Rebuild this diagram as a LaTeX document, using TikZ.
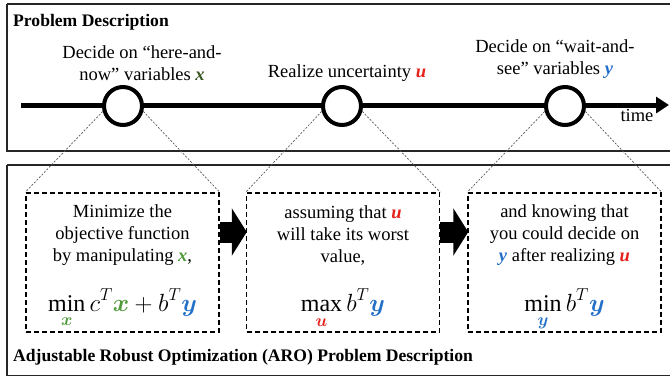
\documentclass[tikz,border=0pt]{standalone}
\usepackage{fontspec}
\setmainfont{Liberation Serif}
\usepackage{amsmath,bm}
\usetikzlibrary{arrows.meta}
\definecolor{gtop}{HTML}{385723}
\definecolor{gbox}{HTML}{4F9A3A}
\definecolor{ured}{HTML}{E4211B}
\definecolor{yblue}{HTML}{2370C8}
\newcommand{\vx}{{\color{gtop}\textbf{\textit{x}}}}
\newcommand{\vu}{{\color{ured}\textbf{\textit{u}}}}
\newcommand{\vy}{{\color{yblue}\textbf{\textit{y}}}}
\newcommand{\vxb}{{\color{gbox}\textbf{\textit{x}}}}
\newcommand{\mathvx}{{\color{gbox}\bm{x}}}
\newcommand{\mathvu}{{\color{ured}\bm{u}}}
\newcommand{\mathvy}{{\color{yblue}\bm{y}}}
\tikzset{
  panel/.style={draw=black!85, line width=1.6pt},
  header/.style={font=\fontsize{17.6}{20}\selectfont\bfseries, anchor=west, inner sep=0pt},
  lbl/.style={font=\fontsize{18.5}{22}\selectfont, align=center, inner sep=0pt},
  event/.style={circle, draw=black, line width=4pt, fill=white, minimum size=38pt, inner sep=0pt},
  stagebox/.style={draw=black, line width=1.5pt, dash pattern=on 5pt off 3pt, minimum width=193pt, minimum height=139pt, inner sep=0pt},
  zoomline/.style={draw=black!65, line width=0.7pt, dash pattern=on 2pt off 1.6pt},
  formula/.style={font=\fontsize{24}{28}\selectfont, anchor=base, inner sep=0pt},
  blockarrow/.style={line width=21pt, -{Triangle[length=15pt,width=47pt]}, shorten >=-1pt}
}
\begin{document}
\begin{tikzpicture}[x=1pt,y=-1pt]
\useasboundingbox (0,0) rectangle (670,376);
% panels
\draw[panel] (7,4) -- (690,4) (7,4) -- (7,151) -- (690,151);
\draw[panel] (7,165) -- (690,165) (7,165) -- (7,375.5) -- (690,375.5);
\node[header] (h1) at (13,22) {Problem Description};
\node[header] (h2) at (13,357) {Adjustable Robust Optimization (ARO) Problem Description};
% timeline
\coordinate (t0) at (21,105);
\coordinate (t1) at (669,105);
\draw[line width=5pt, -{Triangle[length=13pt,width=16pt]}] (t0) -- (t1);
\node[event] (c1) at (123,106) {};
\node[event] (c2) at (342,106) {};
\node[event] (c3) at (565,106) {};
\node[lbl] (l1) at (142,63) {Decide on “here-and-\\now” variables \vx};
\node[lbl] (l2) at (347,73) {Realize uncertainty \vu};
\node[lbl] (l3) at (555,59) {Decide on “wait-and-\\see” variables \vy};
\node[lbl] (tm) at (637,115) {time};
% stage boxes
\node[stagebox] (b1) at (122.5,262.5) {};
\node[stagebox] (b2) at (343,262.5) {};
\node[stagebox] (b3) at (564.5,262.5) {};
\foreach \c/\b in {c1/b1,c2/b2,c3/b3}{
  \draw[zoomline] (\c.195) -- (\b.north west);
  \draw[zoomline] (\c.-15) -- (\b.north east);
}
\node[lbl] (s1) at (122.5,235) {Minimize the\\objective function\\by manipulating \vxb,};
\node[lbl] (s2) at (343,235) {assuming that \vu\\will take its worst\\value,};
\node[lbl] (s3) at (564.5,235) {and knowing that\\you could decide on\\\vy{} after realizing \vu};
\node[formula] (f1) at (122.5,311) {$\displaystyle\min_{\mathvx} c^T\mathvx + b^T\mathvy$};
\node[formula] (f2) at (343,311) {$\displaystyle\max_{\mathvu} b^T\mathvy$};
\node[formula] (f3) at (564.5,311) {$\displaystyle\min_{\mathvy} b^T\mathvy$};
% block arrows
\draw[blockarrow] ([yshift=30.5pt]b1.east) -- ([yshift=30.5pt]b2.west);
\draw[blockarrow] ([yshift=30.5pt]b2.east) -- ([yshift=30.5pt]b3.west);
\end{tikzpicture}
\end{document}
